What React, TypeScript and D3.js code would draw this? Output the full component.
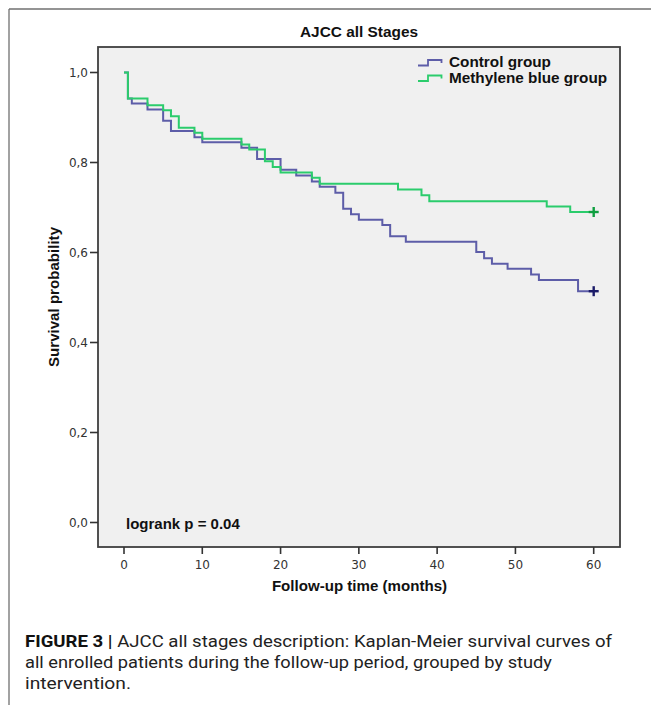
import React from "react";
import * as d3 from "d3";

const controlTimes = [0, 0.5, 1, 3, 5, 6, 9, 10, 15, 17, 20, 22, 24, 25, 27, 28, 29, 30, 33, 34, 36, 45, 46, 47, 49, 52, 53, 58, 60];
const controlSurv = [1.0, 0.942, 0.931, 0.918, 0.893, 0.87, 0.856, 0.845, 0.833, 0.808, 0.784, 0.771, 0.758, 0.746, 0.733, 0.697, 0.685, 0.673, 0.661, 0.636, 0.624, 0.601, 0.587, 0.575, 0.564, 0.551, 0.539, 0.514, 0.514];

const mbTimes = [0, 0.5, 3, 5, 6, 7, 9, 10, 15, 16, 18, 19, 20, 24, 25, 35, 38, 39, 54, 57, 60];
const mbSurv = [1.0, 0.942, 0.927, 0.916, 0.903, 0.877, 0.866, 0.853, 0.84, 0.829, 0.803, 0.79, 0.778, 0.766, 0.753, 0.74, 0.727, 0.714, 0.702, 0.69, 0.69];

const xTicks = [0, 10, 20, 30, 40, 50, 60];
const yTicks = [0, 0.2, 0.4, 0.6, 0.8, 1.0];

const seriesNames = ["Control group", "Methylene blue group"];
const captionLines = [
  "AJCC all stages description: Kaplan-Meier survival curves of",
  "all enrolled patients during the follow-up period, grouped by study",
  "intervention.",
];

const W = 651;
const H = 705;
const plot = { left: 98, right: 620, top: 47, bottom: 547 };

const BLUE = "#5d5da8";
const GREEN = "#2bcc6c";
const BLUE_DARK = "#1b1b68";
const GREEN_DARK = "#0f9f40";

export default function App() {
  const x = d3.scaleLinear().domain([0, 60]).range([124, 593.7]);
  const y = d3.scaleLinear().domain([0, 1]).range([522.5, 72.5]);

  const line = d3
    .line<[number, number]>()
    .x((d) => x(d[0]))
    .y((d) => y(d[1]))
    .curve(d3.curveStepAfter);

  const controlPts: [number, number][] = controlTimes.map((t, i) => [t, controlSurv[i]]);
  const mbPts: [number, number][] = mbTimes.map((t, i) => [t, mbSurv[i]]);

  const fmt = (v: number) => v.toFixed(1).replace(".", ",");

  const cross = (t: number, s: number, color: string) => {
    const cx = x(t);
    const cy = y(s);
    return (
      <g stroke={color} strokeWidth={2.4}>
        <line x1={cx - 5} x2={cx + 5} y1={cy} y2={cy} />
        <line x1={cx} x2={cx} y1={cy - 5} y2={cy + 5} />
      </g>
    );
  };

  const tickFont = "'DejaVu Sans', Verdana, sans-serif";
  const boldFont = "'Liberation Sans', Arial, sans-serif";
  const capFont = "'Liberation Sans Narrow', Roboto, 'Liberation Sans', sans-serif";

  return (
    <svg
      width={W}
      height={H}
      style={{ position: "absolute", left: 0, top: 0, background: "#fff" }}
    >
      <rect x={0} y={0} width={W} height={H} fill="#fff" />
      {/* outer figure frame */}
      <line x1={9} x2={W} y1={9} y2={9} stroke="#707070" strokeWidth={1.3} />
      <line x1={9} x2={9} y1={9} y2={H} stroke="#707070" strokeWidth={1.3} />

      {/* title */}
      <text x={359} y={37} textAnchor="middle" fontFamily={boldFont} fontWeight="bold" fontSize={15.4} fill="#111">
        AJCC all Stages
      </text>

      {/* plot area */}
      <rect
        x={plot.left}
        y={plot.top}
        width={plot.right - plot.left}
        height={plot.bottom - plot.top}
        fill="#f0f0f0"
        stroke="#3f3f3f"
        strokeWidth={1.8}
      />

      {/* y axis ticks */}
      {yTicks.map((v) => (
        <g key={"y" + v}>
          <line x1={90} x2={plot.left} y1={y(v)} y2={y(v)} stroke="#333" strokeWidth={1.6} />
          <text x={88} y={y(v) + 4.3} textAnchor="end" fontFamily={tickFont} fontSize={12} fill="#333">
            {fmt(v)}
          </text>
        </g>
      ))}

      {/* x axis ticks */}
      {xTicks.map((v) => (
        <g key={"x" + v}>
          <line x1={x(v)} x2={x(v)} y1={plot.bottom} y2={plot.bottom + 7} stroke="#333" strokeWidth={1.6} />
          <text x={x(v)} y={569} textAnchor="middle" fontFamily={tickFont} fontSize={12} fill="#333">
            {v}
          </text>
        </g>
      ))}

      {/* axis labels */}
      <text x={359.5} y={590.5} textAnchor="middle" fontFamily={boldFont} fontWeight="bold" fontSize={15.1} fill="#111">
        Follow-up time (months)
      </text>
      <text
        transform={`translate(58.5,297) rotate(-90)`}
        textAnchor="middle"
        fontFamily={boldFont}
        fontWeight="bold"
        fontSize={15.1}
        fill="#111"
      >
        Survival probability
      </text>

      {/* curves */}
      <path d={line(controlPts) || ""} fill="none" stroke={BLUE} strokeWidth={2} />
      <path d={line(mbPts) || ""} fill="none" stroke={GREEN} strokeWidth={2} />
      {cross(controlTimes[controlTimes.length - 1], controlSurv[controlSurv.length - 1], BLUE_DARK)}
      {cross(mbTimes[mbTimes.length - 1], mbSurv[mbSurv.length - 1], GREEN_DARK)}

      {/* logrank */}
      <text x={126} y={529} fontFamily={boldFont} fontWeight="bold" fontSize={15} fill="#111">
        logrank p = 0.04
      </text>

      {/* legend */}
      <path d="M418,65.5 H428 V60 H441.5 V63" fill="none" stroke={BLUE} strokeWidth={1.8} />
      <text x={449} y={67} fontFamily={boldFont} fontWeight="bold" fontSize={15.3} fill="#111">
        {seriesNames[0]}
      </text>
      <path d="M418,81 H428 V75.5 H441.5 V78.5" fill="none" stroke={GREEN} strokeWidth={1.8} />
      <text x={449} y={83} fontFamily={boldFont} fontWeight="bold" fontSize={15.3} fill="#111">
        {seriesNames[1]}
      </text>

      {/* caption */}
      <text x={25} y={646.5} fontFamily={capFont} fontSize={16.5} fill="#222" textLength={587} lengthAdjust="spacingAndGlyphs">
        <tspan fontWeight="bold" fill="#111">FIGURE 3 | </tspan>
        {captionLines[0]}
      </text>
      <text x={25} y={667.5} fontFamily={capFont} fontSize={16.5} fill="#222" textLength={527} lengthAdjust="spacingAndGlyphs">
        {captionLines[1]}
      </text>
      <text x={25} y={688.5} fontFamily={capFont} fontSize={16.5} fill="#222" textLength={106} lengthAdjust="spacingAndGlyphs">
        {captionLines[2]}
      </text>
    </svg>
  );
}
